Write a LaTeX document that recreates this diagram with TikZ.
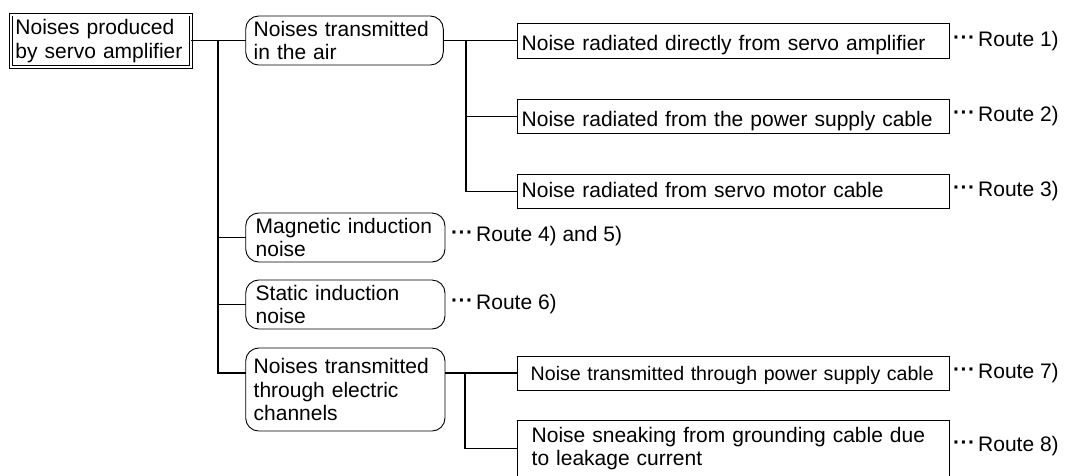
\documentclass[tikz,border=0pt]{standalone}
\usepackage{fontspec}
\setmainfont{Liberation Sans}
\hyphenpenalty=10000
\exhyphenpenalty=10000
\newcommand\rdots{\raisebox{2pt}{\textbf{·\kern0.6pt·\kern0.6pt·}}\kern3pt}
\begin{document}
\begin{tikzpicture}[x=1pt,y=-1pt,
  every node/.style={font=\fontsize{21}{23.8}\selectfont, inner ysep=0pt, outer sep=0pt},
  sq/.style={draw, line width=0.9pt, rectangle, align=left},
  rnd/.style={draw, line width=0.9pt, rounded corners=13pt, align=left},
  conn/.style={line width=1.1pt},
  route/.style={anchor=west, inner sep=0pt}]
\useasboundingbox (0,0) rectangle (1065,475);

% root
\node[draw, double, double distance=2pt, line width=0.9pt, align=left,
      minimum width=180.3pt, minimum height=52.8pt, inner xsep=4.5pt, text width=171.3pt]
      (root) at (101.15,40.9) {Noises produced\\by servo amplifier};

% second level (rounded)
\node[rnd, minimum width=197.6pt, minimum height=49pt, inner xsep=8pt, text width=181.6pt]
      (air) at (344.5,40.5) {Noises transmitted\\in the air};
\node[rnd, minimum width=199.3pt, minimum height=49pt, inner xsep=10pt, text width=179.3pt]
      (mag) at (345.35,237.5) {\mbox{Magnetic induction}\\noise};
\node[rnd, minimum width=199.3pt, minimum height=49pt, inner xsep=10pt, text width=179.3pt]
      (sta) at (345.35,304.5) {Static induction\\noise};
\node[rnd, minimum width=199.3pt, minimum height=83pt, inner xsep=8pt, text width=183.3pt]
      (ele) at (345.35,389.5) {Noises transmitted\\through electric\\channels};

% third level
\node[sq, minimum width=431.3pt, minimum height=34.5pt, inner xsep=4pt, text width=423.3pt,
      text height=18pt, text depth=0pt]
      (d1) at (733.35,41) {Noise radiated directly from servo amplifier};
\node[sq, minimum width=431.3pt, minimum height=34.3pt, inner xsep=4pt, text width=423.3pt,
      text height=21pt, text depth=0pt]
      (d2) at (733.35,116.2) {Noise radiated from the power supply cable};
\node[sq, minimum width=431.3pt, minimum height=34.3pt, inner xsep=4pt, text width=423.3pt,
      text height=12.4pt, text depth=0pt]
      (d3) at (733.35,191.5) {Noise radiated from servo motor cable};
\node[sq, minimum width=431.3pt, minimum height=34pt, inner xsep=13pt, text width=405.3pt,
      text height=14pt, text depth=0pt, font=\fontsize{19.6}{23.8}\selectfont]
      (d7) at (733.35,373) {\mbox{Noise transmitted through power supply cable}};
\node[sq, minimum width=431.3pt, minimum height=55.8pt, inner xsep=14pt, text width=403.3pt]
      (d8) at (733.35,448.6) {Noise sneaking from grounding cable due\\to leakage current};

% route labels
\node[route] (r1) at ([xshift=4pt]d1.east) {\rdots Route 1)};
\node[route] (r2) at ([xshift=4pt]d2.east) {\rdots Route 2)};
\node[route] (r3) at ([xshift=4pt]d3.east) {\rdots Route 3)};
\node[route] (r4) at ([xshift=6pt,yshift=1.2pt]mag.east) {\rdots Route 4) and 5)};
\node[route] (r6) at ([xshift=6pt]sta.east) {\rdots Route 6)};
\node[route] (r7) at ([xshift=4pt]d7.east) {\rdots Route 7)};
\node[route] (r8) at ([xshift=4pt,yshift=2.3pt]d8.east) {\rdots Route 8)};

% connectors
\coordinate (tk) at (218,0);
\coordinate (ba) at (466,0);
\coordinate (be) at (465,0);
\draw[conn] (root.east) -- (root.east -| air.west);
\draw[conn] (tk |- root.east) -- (tk |- d7.west) -- (ele.west |- d7.west);
\draw[conn] (tk |- mag.west) -- (mag.west);
\draw[conn] (tk |- sta.west) -- (sta.west);
\draw[conn] (air.east) -- (air.east -| d1.west);
\draw[conn] (ba |- air.east) -- (ba |- d3.west) -- (d3.west);
\draw[conn] (ba |- d2.west) -- (d2.west);
\draw[conn] (ele.east |- d7.west) -- (d7.west);
\draw[conn] (be |- d7.west) -- (be |- d8.west) -- (d8.west);
\end{tikzpicture}
\end{document}
